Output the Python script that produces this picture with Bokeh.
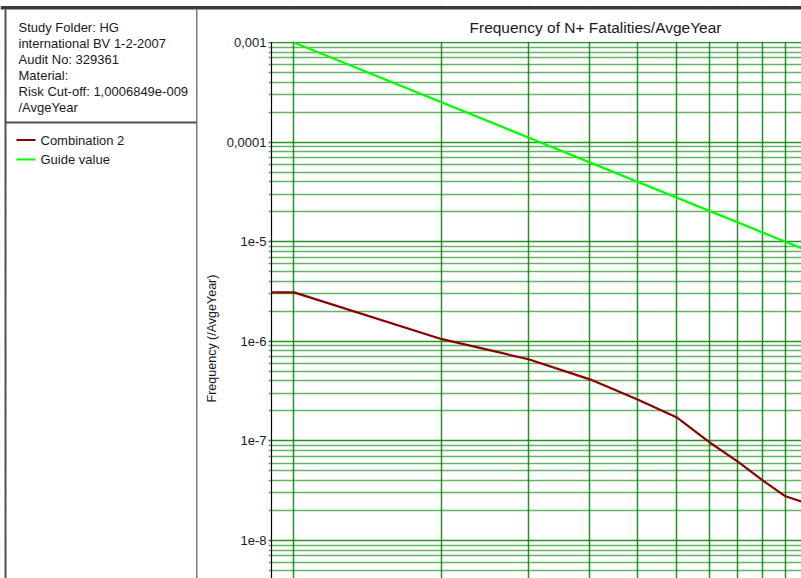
import math
from bokeh.plotting import figure
from bokeh.models import Range1d, FixedTicker, LinearScale
from bokeh.core.properties import value
from bokeh.embed import file_html
from bokeh.resources import INLINE

# ---------------- data ----------------
info_lines = [
    "Study Folder: HG",
    "international BV 1-2-2007",
    "Audit No: 329361",
    "Material:",
    "Risk Cut-off: 1,0006849e-009",
    "/AvgeYear",
]
series_names = ["Combination 2", "Guide value"]
series_colors = ["#8b0000", "#00ff00"]

comb_n = [0.9, 1, 2, 3, 4, 5, 6, 7, 8, 9, 10, 11]
comb_freq = [3.1e-6, 3.1e-6, 1.05e-6, 6.6e-7, 4.15e-7, 2.6e-7, 1.73e-7,
             9.7e-8, 6.2e-8, 4.0e-8, 2.78e-8, 2.38e-8]

guide_n = [1, 10, 100]
guide_freq = [1e-3, 1e-5, 1e-7]

y_tick_values = [1e-8, 1e-7, 1e-6, 1e-5, 1e-4, 1e-3]
y_tick_labels = ["1e-8", "1e-7", "1e-6", "1e-5", "0,0001", "0,001"]
x_grid_values = [1, 2, 3, 4, 5, 6, 7, 8, 9, 10]

title_text = "Frequency of N+ Fatalities/AvgeYear"
y_label = "Frequency (/AvgeYear)"

# ---------------- styles / layout ----------------
FONT = value("Liberation Sans")
TEXT_COLOR = "#1a1a1a"
GRID_COLOR = "#008000"
BORDER = "#505050"
W, H = 801, 578
X_MIN, X_MAX = 0.9, 10.78          # data range of the plotting area
Y_MIN, Y_MAX = 4.155e-9, 1e-3
AX_L, AX_T = 271, 42               # plotting area left / top (page px)

# whole canvas is the frame; extend log ranges so the plot area sits at AX_L/AX_T
dec_x = (W - AX_L) / (math.log10(X_MAX) - math.log10(X_MIN))
dec_y = (H - AX_T) / (math.log10(Y_MAX) - math.log10(Y_MIN))
x_lo = X_MIN * 10 ** (-AX_L / dec_x)
y_hi = Y_MAX * 10 ** (AX_T / dec_y)

y_minor = [k * 10.0 ** e for e in range(-10, -3) for k in range(2, 10)]

p = figure(width=W, height=H, title=None, x_axis_type="log", y_axis_type="log",
           x_range=Range1d(x_lo, X_MAX), y_range=Range1d(Y_MIN, y_hi),
           x_axis_location=None, y_axis_location=None, toolbar_location=None,
           output_backend="svg", min_border=0)
p.extra_x_ranges = {"px": Range1d(0, W)}
p.extra_y_ranges = {"py": Range1d(H, 0)}
p.extra_x_scales = {"px": LinearScale()}
p.extra_y_scales = {"py": LinearScale()}
p.outline_line_color = None
p.background_fill_color = "white"
p.border_fill_color = "white"

# grids
p.xgrid.ticker = FixedTicker(ticks=x_grid_values)
p.xgrid.grid_line_color = GRID_COLOR
p.xgrid.grid_line_alpha = 0.85
p.xgrid.grid_line_width = 1.5
p.ygrid.ticker = FixedTicker(ticks=y_tick_values, minor_ticks=y_minor)
p.ygrid.grid_line_color = GRID_COLOR
p.ygrid.grid_line_alpha = 0.85
p.ygrid.grid_line_width = 1.5
p.ygrid.minor_grid_line_color = GRID_COLOR
p.ygrid.minor_grid_line_alpha = 0.6
p.ygrid.minor_grid_line_width = 1.4

PX = dict(x_range_name="px", y_range_name="py")

# white covers outside the plotting area (grid lines are clipped visually here)
p.quad(left=[0, 0], right=[W, AX_L - 3], top=[0, 0], bottom=[AX_T - 0.8, H],
       fill_color="white", line_color=None, **PX)

# axis line and tick labels
p.line([X_MIN, X_MIN], [Y_MIN, Y_MAX], line_color="black", line_width=1.2)
p.text(x=[X_MIN] * len(y_tick_values), y=y_tick_values, text=y_tick_labels,
       x_offset=-5, text_font=FONT, text_font_size="13px", text_color=TEXT_COLOR,
       text_align="right", text_baseline="middle")

# series
p.line(guide_n, guide_freq, line_color=series_colors[1], line_width=2.2)
p.line(comb_n, comb_freq, line_color=series_colors[0], line_width=2.2)

# title and axis label (page pixel positions)
p.text(x=[469], y=[27], text=[title_text], text_font=FONT, text_font_size="15.5px",
       text_color=TEXT_COLOR, text_align="left", text_baseline="middle", **PX)
p.text(x=[211], y=[338], text=[y_label], angle=math.pi / 2, text_font=FONT,
       text_font_size="12.5px", text_color=TEXT_COLOR, text_align="center",
       text_baseline="middle", **PX)

# top bar and panel borders
p.quad(left=[0, 4, 195.5, 5], right=[W, 6, 197, 196],
       top=[5.5, 9, 9, 121], bottom=[9, H, H, 123],
       fill_color=["#3a3a3a", BORDER, "#7a7a7a", BORDER], line_color=None, **PX)

# info text
p.text(x=[18] * len(info_lines), y=[27 + 16 * i for i in range(len(info_lines))],
       text=info_lines, text_font=FONT, text_font_size="13px", text_color=TEXT_COLOR,
       text_align="left", text_baseline="middle", **PX)

# legend
leg_y = [139.5 + 19.5 * i for i in range(len(series_names))]
p.quad(left=[16] * len(leg_y), right=[35] * len(leg_y),
       top=[cy - 1 for cy in leg_y], bottom=[cy + 1 for cy in leg_y],
       fill_color=series_colors, line_color=None, **PX)
p.text(x=[40] * len(series_names), y=leg_y, text=series_names, text_font=FONT,
       text_font_size="13px", text_color=TEXT_COLOR, text_align="left",
       text_baseline="middle", **PX)

open("out.html", "w").write(file_html(p, INLINE))
